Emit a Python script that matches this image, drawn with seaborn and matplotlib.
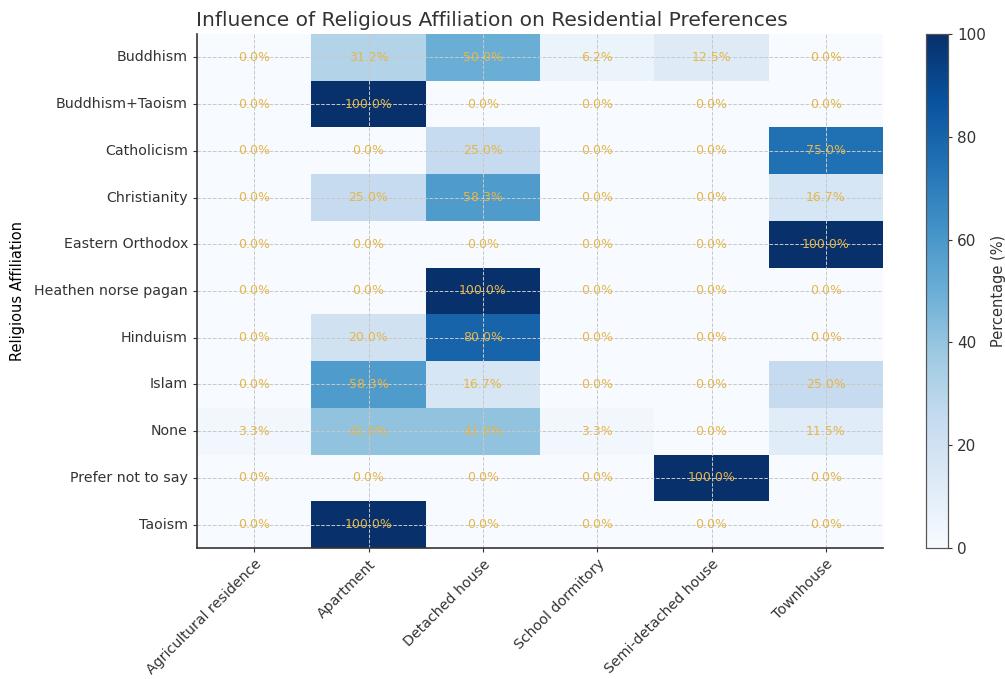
import numpy as np
import pandas as pd
import matplotlib
matplotlib.use("Agg")
import matplotlib.pyplot as plt
import seaborn as sns

# Religion rows and residence columns
religions = ["Buddhism", "Buddhism+Taoism", "Catholicism", "Christianity",
             "Eastern Orthodox", "Heathen norse pagan", "Hinduism", "Islam",
             "None", "Prefer not to say", "Taoism"]
residences = ["Agricultural residence", "Apartment", "Detached house",
              "School dormitory", "Semi-detached house", "Townhouse"]

# Percentages (one list per residence type)
agricultural = [0.0, 0.0, 0.0, 0.0, 0.0, 0.0, 0.0, 0.0, 3.3, 0.0, 0.0]
apartment = [31.2, 100.0, 0.0, 25.0, 0.0, 0.0, 20.0, 58.3, 41.0, 0.0, 100.0]
detached = [50.0, 0.0, 25.0, 58.3, 0.0, 100.0, 80.0, 16.7, 41.0, 0.0, 0.0]
dormitory = [6.2, 0.0, 0.0, 0.0, 0.0, 0.0, 0.0, 0.0, 3.3, 0.0, 0.0]
semi_detached = [12.5, 0.0, 0.0, 0.0, 0.0, 0.0, 0.0, 0.0, 0.0, 100.0, 0.0]
townhouse = [0.0, 0.0, 75.0, 16.7, 100.0, 0.0, 0.0, 25.0, 11.5, 0.0, 0.0]

df = pd.DataFrame({
    residences[0]: agricultural,
    residences[1]: apartment,
    residences[2]: detached,
    residences[3]: dormitory,
    residences[4]: semi_detached,
    residences[5]: townhouse,
}, index=religions)

fig = plt.figure(figsize=(10.05, 6.79), dpi=100)
ax = fig.add_axes([197 / 1005, 131 / 679, 686 / 1005, 514 / 679])
cax = fig.add_axes([926 / 1005, 131 / 679, 22 / 1005, 514 / 679])

sns.heatmap(df, ax=ax, cbar_ax=cax, cmap="Blues", vmin=0, vmax=100,
            annot=True, fmt=".1f", annot_kws={"color": "#E6B648", "fontsize": 9},
            cbar_kws={"label": "Percentage (%)"})

# add the percent sign to annotations
for t in ax.texts:
    t.set_text(t.get_text() + "%")

ax.grid(True, linestyle="--", color="#c8c8c8", linewidth=0.7)
for side in ["left", "bottom"]:
    ax.spines[side].set_visible(True)
    ax.spines[side].set_color("#333333")
    ax.spines[side].set_linewidth(1.2)

ax.set_title("Influence of Religious Affiliation on Residential Preferences",
             fontsize=14.5, color="#333333", loc="left", x=-0.002)
ax.set_ylabel("Religious Affiliation", fontsize=10.5)
ax.yaxis.set_label_coords(-172 / 686, 0.5)
ax.set_xlabel("")
ax.tick_params(axis="both", labelsize=10.2, length=3, colors="#333333")
ax.set_xticklabels(residences, rotation=45, ha="right", rotation_mode="anchor")
ax.set_yticklabels(religions, rotation=0)

cax.tick_params(labelsize=11, length=3, colors="#333333")
cax.set_ylabel("Percentage (%)", fontsize=10.5, color="#333333")
for s in cax.spines.values():
    s.set_visible(True)
    s.set_color("#555555")
    s.set_linewidth(0.8)

fig.savefig("out.png", dpi=100)
